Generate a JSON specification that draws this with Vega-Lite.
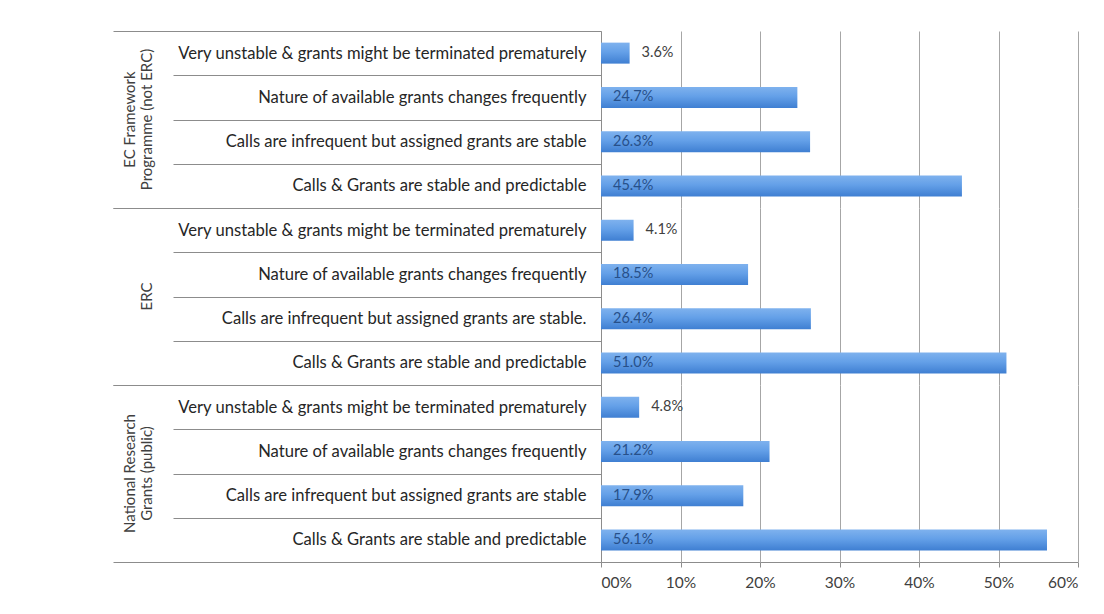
{
  "$schema": "https://vega.github.io/schema/vega-lite/v6.json",
  "padding": {"left": 112, "top": 23, "right": 20, "bottom": 5},
  "background": "white",
  "bounds": "flush",
  "data": {"values": [
    {"group": "EC Framework|Programme (not ERC)", "key": "EC|Very unstable & grants might be terminated prematurely", "value": 0.036},
    {"group": "EC Framework|Programme (not ERC)", "key": "EC|Nature of available grants changes frequently", "value": 0.247},
    {"group": "EC Framework|Programme (not ERC)", "key": "EC|Calls are infrequent but assigned grants are stable", "value": 0.263},
    {"group": "EC Framework|Programme (not ERC)", "key": "EC|Calls & Grants are stable and predictable", "value": 0.454},
    {"group": "ERC", "key": "ERC|Very unstable & grants might be terminated prematurely", "value": 0.041},
    {"group": "ERC", "key": "ERC|Nature of available grants changes frequently", "value": 0.185},
    {"group": "ERC", "key": "ERC|Calls are infrequent but assigned grants are stable.", "value": 0.264},
    {"group": "ERC", "key": "ERC|Calls & Grants are stable and predictable", "value": 0.510},
    {"group": "National Research|Grants (public)", "key": "NR|Very unstable & grants might be terminated prematurely", "value": 0.048},
    {"group": "National Research|Grants (public)", "key": "NR|Nature of available grants changes frequently", "value": 0.212},
    {"group": "National Research|Grants (public)", "key": "NR|Calls are infrequent but assigned grants are stable", "value": 0.179},
    {"group": "National Research|Grants (public)", "key": "NR|Calls & Grants are stable and predictable", "value": 0.561}
  ]},
  "facet": {
    "row": {
      "field": "group", "type": "nominal",
      "sort": ["EC Framework|Programme (not ERC)", "ERC", "National Research|Grants (public)"],
      "header": {
        "title": null,
        "labelOrient": "left",
        "labelAngle": -90,
        "labelAlign": "center",
        "labelBaseline": "middle",
        "labelExpr": "split(datum.label, '|')",
        "labelFont": "Lato",
        "labelFontSize": 15,
        "labelColor": "#404040",
        "labelLineHeight": 17,
        "labelPadding": 439
      }
    }
  },
  "spacing": 0,
  "resolve": {"scale": {"y": "independent"}},
  "spec": {
    "width": 477,
    "height": 177,
    "encoding": {
      "y": {
        "field": "key", "type": "nominal", "sort": null,
        "scale": {"paddingInner": 0, "paddingOuter": 0},
        "axis": {
          "title": null,
          "tickBand": "extent",
          "tickSize": {"condition": {"test": "!datum.value || datum.index < 0 || datum.index >= 1", "value": 488}, "value": 428},
          "labelPadding": {"condition": {"test": "!datum.value || datum.index < 0 || datum.index >= 1", "value": -473}, "value": -413},
          "tickColor": "#8c8c8c",
          "tickWidth": 1,
          "domainColor": "#8c8c8c",
          "labelExpr": "split(datum.label, '|')[1]",
          "labelFont": "Lato",
          "labelFontSize": 16.6,
          "labelColor": "#262626",
          "labelLimit": 0,
          "grid": false
        }
      }
    },
    "layer": [
      {
        "mark": {
          "type": "bar", "size": 21,
          "color": {"gradient": "linear", "x1": 0, "y1": 0, "x2": 0, "y2": 1,
            "stops": [{"offset": 0, "color": "#7fb2ee"}, {"offset": 0.45, "color": "#64a0e8"}, {"offset": 1, "color": "#3f7fd2"}]}
        },
        "encoding": {
          "x": {
            "field": "value", "type": "quantitative",
            "scale": {"domain": [0, 0.6], "nice": false},
            "axis": {
              "title": null,
              "values": [0, 0.1, 0.2, 0.3, 0.4, 0.5, 0.6],
              "labelExpr": "datum.value == 0 ? '00%' : format(datum.value, '.0%')",
              "labelFont": "Lato",
              "labelFontSize": 15.5,
              "labelColor": "#404040",
              "labelPadding": 8,
              "tickSize": 5,
              "tickColor": "#8c8c8c",
              "domainColor": "#8c8c8c",
              "gridColor": "#a6a6a6",
              "gridWidth": 1
            }
          }
        }
      },
      {
        "transform": [{"filter": "datum.value < 0.1"}],
        "mark": {"type": "text", "align": "left", "baseline": "middle", "dx": 12, "font": "Lato", "fontSize": 14.5, "color": "#404040"},
        "encoding": {
          "x": {"field": "value", "type": "quantitative"},
          "text": {"field": "value", "type": "quantitative", "format": ".1%"}
        }
      },
      {
        "transform": [{"filter": "datum.value >= 0.1"}],
        "mark": {"type": "text", "align": "left", "baseline": "middle", "dx": 12, "font": "Lato", "fontSize": 14.5, "color": "#27508a"},
        "encoding": {
          "x": {"datum": 0},
          "text": {"field": "value", "type": "quantitative", "format": ".1%"}
        }
      }
    ]
  },
  "config": {"view": {"stroke": null}}
}
